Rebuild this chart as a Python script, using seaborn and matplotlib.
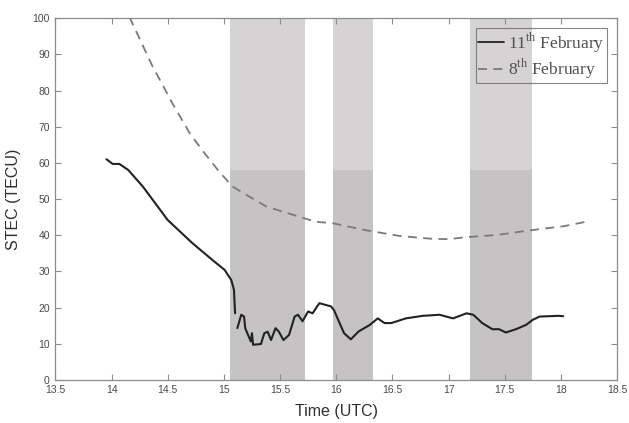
import matplotlib
matplotlib.use("Agg")
import matplotlib.pyplot as plt
import seaborn as sns
import pandas as pd

# STEC on 11 February (solid) -- two segments, a gap right after the sharp drop
feb11_t_a = [13.955, 14.01, 14.07, 14.15, 14.28, 14.50, 14.72, 14.90, 15.007, 15.066, 15.09, 15.10]
feb11_v_a = [61.0, 59.7, 59.7, 58.0, 53.4, 44.2, 37.8, 33.1, 30.4, 27.6, 24.9, 18.4]
feb11_t_b = [15.12, 15.155, 15.18, 15.19, 15.24, 15.25, 15.26, 15.33, 15.36, 15.39, 15.42,
             15.46, 15.49, 15.53, 15.58, 15.63, 15.66, 15.70, 15.75, 15.79, 15.85, 15.955,
             15.98, 16.03, 16.07, 16.13, 16.20, 16.30, 16.37, 16.43, 16.49, 16.62, 16.77,
             16.92, 17.04, 17.16, 17.22, 17.30, 17.39, 17.45, 17.51, 17.60, 17.69, 17.75,
             17.81, 17.98, 18.02]
feb11_v_b = [14.3, 18.0, 17.5, 14.3, 10.6, 12.9, 9.7, 9.9, 12.9, 13.3, 11.0,
             14.3, 13.3, 11.0, 12.4, 17.5, 18.0, 16.2, 18.9, 18.4, 21.2, 20.3,
             19.3, 15.7, 12.9, 11.2, 13.4, 15.2, 17.0, 15.7, 15.7, 17.0, 17.7,
             18.0, 17.0, 18.4, 18.0, 15.7, 14.0, 14.0, 13.1, 14.0, 15.2, 16.6,
             17.5, 17.7, 17.6]

# STEC on 8 February (dashed)
feb8_t = [14.16, 14.36, 14.55, 14.70, 14.82, 14.96, 15.08, 15.23, 15.38, 15.67, 15.82,
          15.97, 16.26, 16.56, 16.85, 17.00, 17.14, 17.44, 17.74, 18.03, 18.22]
feb8_v = [100.3, 87.0, 76.0, 68.0, 63.0, 57.5, 53.4, 50.6, 47.9, 45.1, 43.7,
          43.3, 41.4, 39.8, 39.0, 38.9, 39.4, 40.1, 41.4, 42.5, 43.7]

# Shaded time windows (UTC) and the level splitting their two tones
windows = [(15.057, 15.72), (15.97, 16.33), (17.19, 17.74)]
tone_split = 58

labels = [r"11$^{\mathrm{th}}$ February", r"8$^{\mathrm{th}}$ February"]

sns.set_style("ticks")
plt.rcParams["font.family"] = ["Liberation Sans", "DejaVu Sans"]
plt.rcParams["mathtext.fontset"] = "custom"
plt.rcParams["mathtext.rm"] = "Liberation Serif"

fig = plt.figure(figsize=(6.29, 4.23), dpi=100)
ax = fig.add_axes([0.088, 0.102, 0.893, 0.855])

for lo, hi in windows:
    ax.axvspan(lo, hi, ymin=0, ymax=tone_split / 100, color="#c5c3c4", lw=0, zorder=0)
    ax.axvspan(lo, hi, ymin=tone_split / 100, ymax=1, color="#d5d3d4", lw=0, zorder=0)

df_a = pd.DataFrame({"t": feb11_t_a, "v": feb11_v_a})
df_b = pd.DataFrame({"t": feb11_t_b, "v": feb11_v_b})
df_8 = pd.DataFrame({"t": feb8_t, "v": feb8_v})

sns.lineplot(data=df_a, x="t", y="v", ax=ax, color="#222222", lw=1.5, sort=False,
             estimator=None, label=labels[0])
sns.lineplot(data=df_b, x="t", y="v", ax=ax, color="#222222", lw=1.5, sort=False,
             estimator=None)
sns.lineplot(data=df_8, x="t", y="v", ax=ax, color="#7a7a7a", lw=1.3, sort=False,
             estimator=None, label=labels[1])
ax.lines[-1].set_dashes([5, 3.5])

ax.set_xlim(13.5, 18.5)
ax.set_ylim(0, 100)
ax.set_xticks([13.5, 14, 14.5, 15, 15.5, 16, 16.5, 17, 17.5, 18, 18.5])
ax.set_xticklabels(["13.5", "14", "14.5", "15", "15.5", "16", "16.5", "17", "17.5", "18", "18.5"])
ax.set_yticks(range(0, 101, 10))

for s in ax.spines.values():
    s.set_visible(True)
    s.set_color("#8c8c8c")
    s.set_linewidth(0.9)
ax.tick_params(direction="in", length=4, width=0.8, color="#8c8c8c",
               top=True, right=True, labelsize=7.5, labelcolor="#4a4a4a", pad=4)

ax.set_xlabel("Time (UTC)", fontsize=11.5, color="#303030", labelpad=6)
ax.set_ylabel("STEC (TECU)", fontsize=11.5, color="#303030", labelpad=8)

leg = ax.legend(loc="upper right", frameon=True, fancybox=False, handlelength=1.5,
                handletextpad=0.25, borderpad=0.12, labelspacing=0.1,
                borderaxespad=0.0, bbox_to_anchor=(0.982, 0.972),
                prop={"family": "Liberation Serif", "size": 12.5})
leg.get_frame().set_edgecolor("#666666")
leg.get_frame().set_facecolor("none")
leg.get_frame().set_linewidth(0.8)
for txt in leg.get_texts():
    txt.set_color("#505050")
for h in leg.get_lines():
    h.set_linewidth(1.3)

fig.savefig("out.png", dpi=100)
